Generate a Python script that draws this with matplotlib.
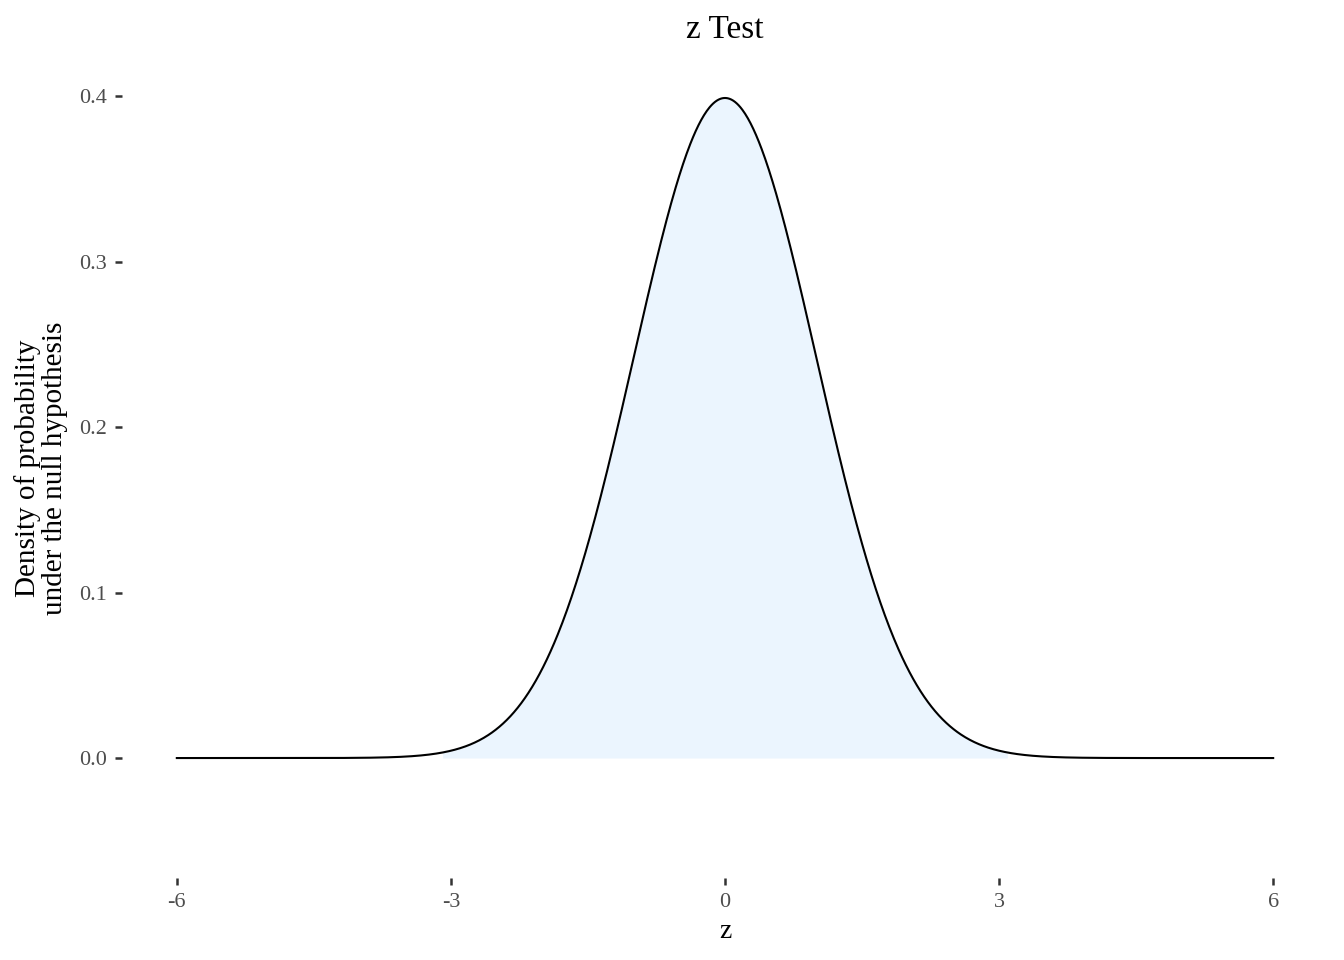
import numpy as np
import matplotlib
matplotlib.use("Agg")
from matplotlib import pyplot as plt

# z distribution under the null hypothesis
mu = 0.0
sigma = 1.0
z_min, z_max = -6, 6
n_points = 1201
fill_lo, fill_hi = -3.09, 3.09   # shaded region
x_ticks = [-6, -3, 0, 3, 6]
y_ticks = [0.0, 0.1, 0.2, 0.3, 0.4]
title = "z Test"
x_label = "z"
y_label = "Density of probability\nunder the null hypothesis"

z = np.linspace(z_min, z_max, n_points)
dens = np.exp(-0.5 * ((z - mu) / sigma) ** 2) / (sigma * np.sqrt(2 * np.pi))

plt.rcParams['font.family'] = ['Liberation Serif', 'DejaVu Serif']

W, H = 1344, 960
fig = plt.figure(figsize=(W / 100, H / 100), dpi=100)
left, right, top, bottom = 122, 1328, 59, 878
ax = fig.add_axes([left / W, 1 - bottom / H, (right - left) / W, (bottom - top) / H])

mask = (z >= fill_lo) & (z <= fill_hi)
ax.fill_between(z[mask], 0, dens[mask], color='#EBF5FE', linewidth=0)
ax.plot(z, dens, color='black', linewidth=1.5)

ax.set_xlim(-6.6, 6.6)
ax.set_ylim(-0.0725, 0.4225)
ax.set_xticks(x_ticks)
ax.set_xticklabels([str(t) for t in x_ticks])
ax.set_yticks(y_ticks)
ax.set_yticklabels(['%.1f' % t for t in y_ticks])

for s in ax.spines.values():
    s.set_visible(False)
ax.tick_params(axis='both', length=5, width=1.8, color='#333333',
               labelcolor='#4D4D4D', labelsize=16, pad=6)

ax.set_title(title, fontsize=24, pad=15)
ax.set_xlabel(x_label, fontsize=20, labelpad=5)
ax.set_ylabel(y_label, fontsize=21, labelpad=8, linespacing=1.05)

plt.savefig("out.png", dpi=100)
